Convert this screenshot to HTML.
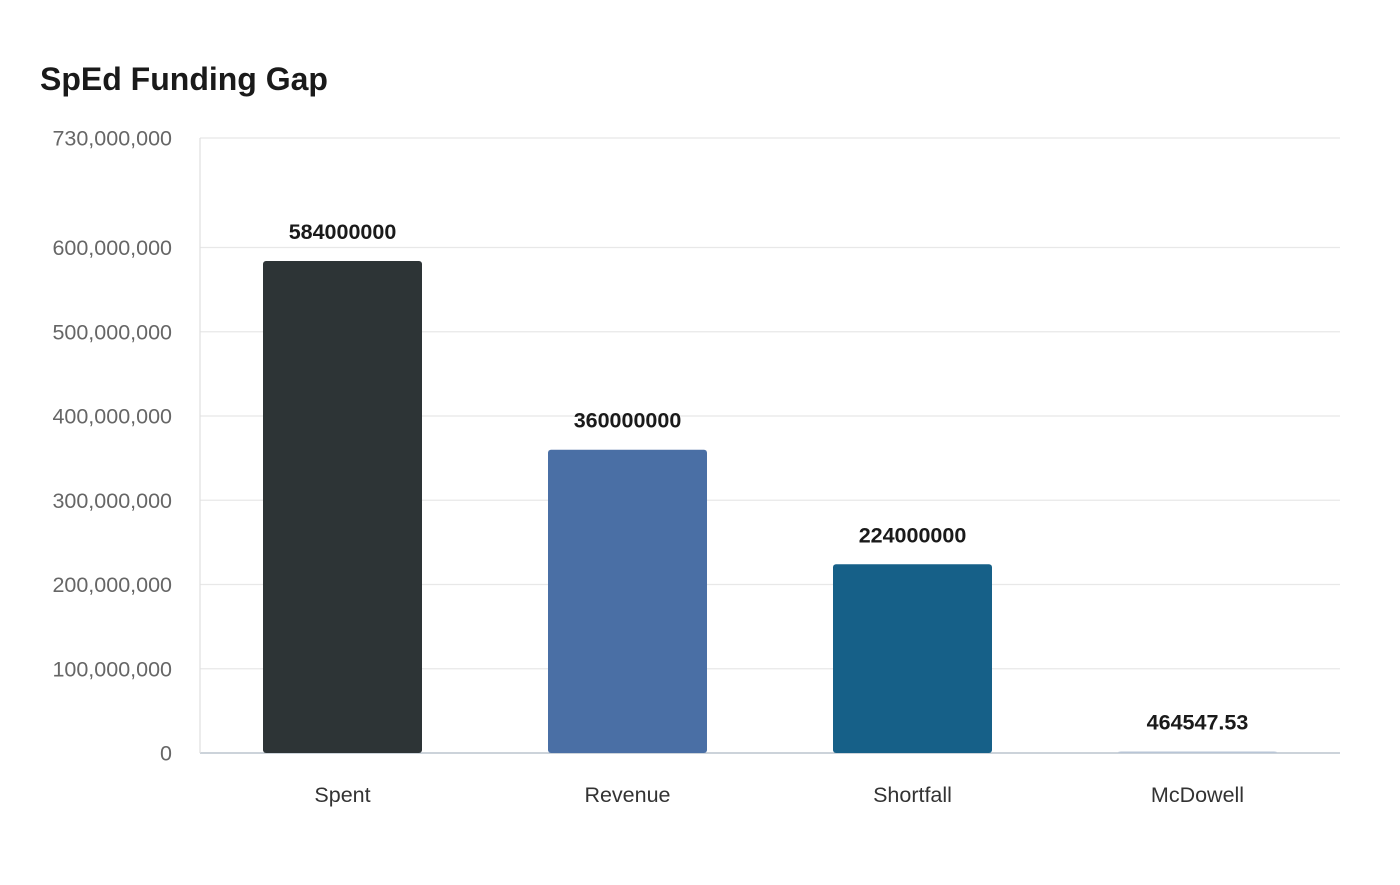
<!DOCTYPE html>
<html><head><meta charset="utf-8"><style>
body{margin:0;background:#fff;width:1400px;height:880px;overflow:hidden;font-family:"Liberation Sans",sans-serif}
</style></head><body>
<svg id="chart" width="1400" height="880" xmlns="http://www.w3.org/2000/svg">
<text x="40" y="90" font-size="32" font-weight="bold" fill="#1a1a1a">SpEd Funding Gap</text>
</svg>
<script>
const categories=["Spent","Revenue","Shortfall","McDowell"];
const values=[584000000,360000000,224000000,464547.53];
const valueLabels=["584000000","360000000","224000000","464547.53"];
const ticks=[0,100000000,200000000,300000000,400000000,500000000,600000000,730000000];
const colors=["#2d3436","#4a6fa5","#166088","#b8c5d6"];
const NS="http://www.w3.org/2000/svg";
const x0=200,x1=1340,y0=753,yTop=138,maxV=730000000;
const y=v=>y0-(v/maxV)*(y0-yTop);
const band=(x1-x0)/categories.length;
const xc=i=>x0+band*(i+0.5);
const svg=document.getElementById('chart');
function mk(t,a,txt){const e=document.createElementNS(NS,t);for(const k in a)e.setAttribute(k,a[k]);if(txt!=null)e.textContent=txt;svg.appendChild(e);return e;}
ticks.forEach(t=>{
 const l=mk('line',{x1:x0,x2:x1,y1:y(t),y2:y(t),stroke:t===0?'#ccd3da':'#e8e8e8','stroke-width':t===0?2:1.2});
 
 
 const tx=mk('text',{x:172,y:y(t)+7.5,'text-anchor':'end','font-size':21.5,fill:'#666'},t.toLocaleString('en-US'));
 
 
});
const ax=mk('line',{x1:x0,x2:x0,y1:yTop,y2:y0,stroke:'#e0e0e0','stroke-width':1.2});


const bw=159;
categories.forEach((c,i)=>{
 const top=y(values[i]);const h=Math.max(y0-top,1.5);
 const r=mk('rect',{x:xc(i)-bw/2,y:y0-h,width:bw,height:h,rx:3,fill:colors[i]});
 
 
 const vl=mk('text',{x:xc(i),y:y0-h-22,'text-anchor':'middle','font-size':21.5,'font-weight':'bold',fill:'#1a1a1a'},valueLabels[i]);
 
 
 const cl=mk('text',{x:xc(i),y:802,'text-anchor':'middle','font-size':21.5,fill:'#333'},c);
 
 
});
</script>
</body></html>
